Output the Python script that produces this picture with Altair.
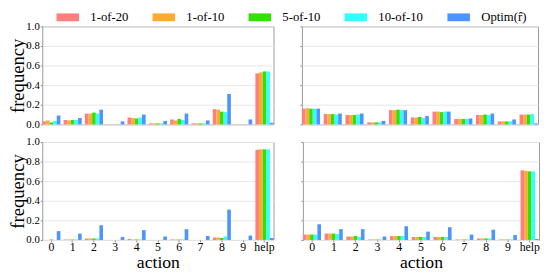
import altair as alt
import pandas as pd

actions = ["0", "1", "2", "3", "4", "5", "6", "7", "8", "9", "help"]
series = ["1-of-20", "1-of-10", "5-of-10", "10-of-10", "Optim(r̂)"]
colors = ["#ff7f7f", "#ffaa33", "#33e000", "#33ffff", "#4d94ff"]

# top-left panel
tl_1of20 = [0.03, 0.045, 0.11, 0.0, 0.07, 0.01, 0.05, 0.01, 0.155, 0.0, 0.52]
tl_1of10 = [0.04, 0.04, 0.11, 0.0, 0.065, 0.01, 0.04, 0.01, 0.15, 0.0, 0.53]
tl_5of10 = [0.02, 0.045, 0.12, 0.0, 0.06, 0.01, 0.055, 0.01, 0.13, 0.0, 0.54]
tl_10of10 = [0.035, 0.045, 0.11, 0.0, 0.07, 0.01, 0.045, 0.01, 0.125, 0.0, 0.54]
tl_optim = [0.09, 0.065, 0.15, 0.03, 0.10, 0.035, 0.11, 0.04, 0.31, 0.05, 0.015]

# top-right panel
tr_1of20 = [0.16, 0.105, 0.095, 0.02, 0.145, 0.07, 0.13, 0.055, 0.095, 0.03, 0.10]
tr_1of10 = [0.165, 0.105, 0.095, 0.02, 0.145, 0.07, 0.13, 0.055, 0.095, 0.03, 0.10]
tr_5of10 = [0.16, 0.105, 0.095, 0.02, 0.15, 0.075, 0.125, 0.055, 0.10, 0.03, 0.10]
tr_10of10 = [0.16, 0.10, 0.10, 0.02, 0.145, 0.065, 0.13, 0.055, 0.095, 0.03, 0.105]
tr_optim = [0.16, 0.11, 0.11, 0.035, 0.145, 0.085, 0.13, 0.06, 0.11, 0.05, 0.01]

# bottom-left panel
bl_1of20 = [0.0, 0.005, 0.015, 0.0, 0.01, 0.0, 0.005, 0.0, 0.025, 0.0, 0.92]
bl_1of10 = [0.0, 0.005, 0.015, 0.0, 0.005, 0.0, 0.005, 0.0, 0.025, 0.0, 0.925]
bl_5of10 = [0.005, 0.005, 0.015, 0.0, 0.005, 0.0, 0.005, 0.0, 0.02, 0.0, 0.925]
bl_10of10 = [0.0, 0.005, 0.015, 0.0, 0.005, 0.0, 0.005, 0.0, 0.035, 0.0, 0.925]
bl_optim = [0.09, 0.065, 0.15, 0.03, 0.10, 0.035, 0.11, 0.04, 0.31, 0.045, 0.02]

# bottom-right panel
br_1of20 = [0.055, 0.065, 0.035, 0.005, 0.04, 0.03, 0.03, 0.005, 0.015, 0.005, 0.71]
br_1of10 = [0.055, 0.065, 0.035, 0.005, 0.04, 0.03, 0.03, 0.005, 0.015, 0.005, 0.705]
br_5of10 = [0.055, 0.065, 0.04, 0.005, 0.04, 0.03, 0.03, 0.005, 0.015, 0.005, 0.70]
br_10of10 = [0.055, 0.06, 0.03, 0.005, 0.04, 0.03, 0.03, 0.005, 0.015, 0.005, 0.70]
br_optim = [0.16, 0.11, 0.11, 0.035, 0.14, 0.085, 0.13, 0.055, 0.105, 0.05, 0.01]

panels = {
    "tl": [tl_1of20, tl_1of10, tl_5of10, tl_10of10, tl_optim],
    "tr": [tr_1of20, tr_1of10, tr_5of10, tr_10of10, tr_optim],
    "bl": [bl_1of20, bl_1of10, bl_5of10, bl_10of10, bl_optim],
    "br": [br_1of20, br_1of10, br_5of10, br_10of10, br_optim],
}

rows = []
for pid, lists in panels.items():
    for s, vals in zip(series, lists):
        for a, v in zip(actions, vals):
            rows.append({"panel": pid, "series": s, "action": a, "value": v})
df = pd.DataFrame(rows)

FONT = "Liberation Serif"

# wide swatch drawn from a small nominal symbol (8px) so the legend row stays short
legend = alt.Legend(
    orient="none", legendX=12, legendY=-16, padding=0, direction="horizontal",
    columns=5, columnPadding=22, symbolType="M-1,-1H4.75V1H-1Z",
    symbolSize=64, symbolStrokeWidth=0, symbolOpacity=1, labelFont=FONT,
    labelFontSize=13, labelOffset=24, labelColor="black", title=None,
)


def panel(pid, show_x, show_y, w):
    if show_x:
        x_axis = alt.Axis(title="action", labelAngle=0, ticks=True, tickSize=2,
                          domain=False, labelPadding=0, titlePadding=1,
                          labelFontSize=12, titleFontSize=18)
    else:
        x_axis = None
    y_axis = alt.Axis(
        title="frequency" if show_y else None,
        values=[0, 0.2, 0.4, 0.6, 0.8, 1.0], format=".1f", labels=show_y,
        tickSize=2, grid=True, domain=False, labelPadding=1, titlePadding=-2,
        labelFontSize=11,
    )
    return alt.Chart(df).transform_filter(alt.datum.panel == pid).mark_bar().encode(
        x=alt.X("action:N", sort=actions,
                scale=alt.Scale(paddingInner=0.15, paddingOuter=0), axis=x_axis),
        xOffset=alt.XOffset("series:N", sort=series),
        y=alt.Y("value:Q", scale=alt.Scale(domain=[0, 1], nice=False), axis=y_axis),
        color=alt.Color("series:N", sort=series,
                        scale=alt.Scale(domain=series, range=colors), legend=legend),
    ).properties(width=w, height=100)


chart = alt.vconcat(
    alt.hconcat(panel("tl", False, True, 236), panel("tr", False, False, 241), spacing=25),
    alt.hconcat(panel("bl", True, True, 236), panel("br", True, False, 241), spacing=25),
    spacing=5,
).properties(
    padding={"left": 0, "top": 0, "right": 0, "bottom": 0},
    background="white",
).configure_view(
    stroke="#999999", strokeWidth=1,
).configure_axis(
    labelFont=FONT, labelColor="black",
    titleFont=FONT, titleFontSize=19, titleFontWeight="normal", titleColor="black",
    gridColor="#e6e6e6", tickColor="#888888",
)

chart.save("out.html", embed_options={"renderer": "svg", "actions": False})
